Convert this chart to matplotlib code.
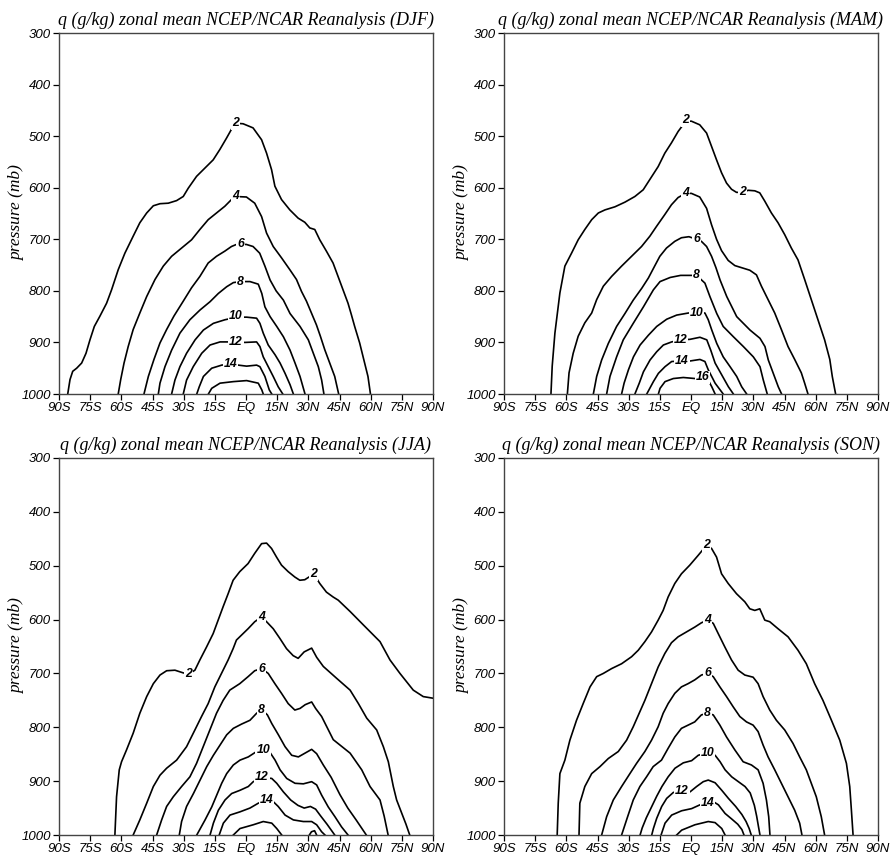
import matplotlib
matplotlib.use('Agg')
import matplotlib.pyplot as plt

# ==============================================================================
# Datos (lat, presion) por nivel de q (g/kg)
# ==============================================================================
LAT_TICKS = [-90, -75, -60, -45, -30, -15, 0, 15, 30, 45, 60, 75, 90]
LAT_LABELS = ['90S', '75S', '60S', '45S', '30S', '15S', 'EQ',
              '15N', '30N', '45N', '60N', '75N', '90N']
P_TICKS = [300, 400, 500, 600, 700, 800, 900, 1000]
SEASONS = ['DJF', 'MAM', 'JJA', 'SON']

DJF = {
    2: [(-85.8, 1000), (-84.7, 972), (-83.4, 956), (-81.5, 950), (-79.1, 940), (-77.0, 921),
        (-75.1, 895), (-73.0, 869), (-70.3, 849), (-67.1, 824), (-64.7, 798), (-61.5, 759),
        (-58.3, 727), (-54.3, 694), (-51.1, 668), (-47.8, 649), (-44.6, 635), (-41.4, 631),
        (-37.4, 630), (-33.4, 625), (-30.2, 617), (-27.8, 601), (-23.8, 578), (-19.8, 562),
        (-15.8, 546), (-12.6, 526), (-9.4, 504), (-6.2, 481), (-4.9, 475), (-1.4, 476),
        (3.4, 484), (7.5, 507), (9.9, 533), (12.3, 565), (13.9, 597), (17.1, 623),
        (21.1, 643), (25.1, 659), (28.3, 667), (30.7, 678), (33.1, 681), (35.5, 701),
        (38.7, 723), (41.9, 746), (44.3, 772), (46.7, 798), (49.1, 824), (50.7, 846),
        (52.3, 869), (54.7, 901), (57.1, 940), (58.7, 966), (59.9, 1000)],
    4: [(-61.5, 1000), (-60.3, 972), (-58.7, 940), (-56.7, 908), (-54.3, 875), (-51.1, 843),
        (-47.8, 811), (-43.8, 778), (-39.8, 752), (-35.8, 733), (-31.0, 717), (-26.2, 701),
        (-22.2, 681), (-18.2, 662), (-14.2, 649), (-10.2, 636), (-7.0, 623), (-5.2, 617),
        (0.2, 618), (4.2, 630), (7.5, 656), (9.9, 688), (13.1, 714), (17.1, 736),
        (21.1, 759), (24.3, 778), (26.7, 801), (29.1, 820), (31.5, 843), (33.9, 866),
        (35.8, 888), (37.9, 914), (40.3, 940), (42.7, 966), (44.6, 1000)],
    6: [(-49.1, 1000), (-47.0, 966), (-44.3, 933), (-41.4, 901), (-38.2, 875), (-34.7, 849),
        (-30.2, 820), (-26.2, 794), (-22.2, 772), (-18.2, 746), (-14.2, 733), (-10.2, 723),
        (-7.0, 714), (-4.6, 710), (0.2, 710), (3.4, 714), (6.6, 727), (9.1, 752),
        (11.6, 779), (14.5, 800), (18.0, 818), (21.2, 844), (26.0, 869), (30.0, 895),
        (32.4, 921), (34.8, 947), (36.4, 973), (37.5, 1000)],
    8: [(-42.2, 1000), (-41.4, 979), (-39.0, 947), (-35.8, 915), (-31.8, 882), (-27.0, 856),
        (-22.1, 837), (-17.3, 821), (-13.3, 805), (-9.3, 792), (-6.1, 784), (-2.6, 782),
        (1.9, 782), (5.9, 787), (7.6, 805), (9.1, 831), (11.6, 850), (14.8, 869),
        (18.0, 889), (21.2, 915), (23.6, 940), (26.0, 966), (28.4, 1000)],
    10: [(-35.8, 1000), (-34.2, 973), (-31.8, 947), (-28.6, 921), (-24.5, 895), (-20.5, 876),
         (-15.7, 863), (-10.1, 856), (-4.2, 851), (0.3, 851), (5.1, 853), (6.7, 863),
         (8.3, 882), (10.7, 905), (14.0, 924), (16.4, 940), (18.8, 960), (21.2, 982),
         (22.8, 1000)],
    12: [(-30.2, 1000), (-28.6, 973), (-25.4, 947), (-21.3, 921), (-17.3, 905), (-12.5, 899),
         (-4.8, 899), (-0.5, 900), (5.1, 899), (6.7, 908), (8.3, 928), (10.7, 947),
         (13.1, 966), (15.5, 986), (17.7, 1000)],
    14: [(-23.7, 1000), (-22.5, 986), (-20.5, 966), (-16.5, 950), (-11.7, 944), (-7.7, 942),
         (-3.7, 944), (0.3, 946), (5.1, 944), (6.7, 947), (9.1, 966), (11.2, 992),
         (12.4, 1000)],
    16: [(-18.1, 1000), (-16.5, 989), (-12.5, 979), (-6.1, 976), (0.3, 974), (5.9, 979),
         (7.6, 992), (8.3, 1000)],
}
DJF_LABELS = {2: [(-4.9, 475)], 4: [(-5.2, 617)], 6: [(-2.6, 710)], 8: [(-2.6, 782)],
              10: [(-4.9, 849)], 12: [(-4.9, 899)], 14: [(-7.5, 941)]}

MAM = {
    2: [(-67.4, 1000), (-66.8, 946), (-65.5, 882), (-63.1, 804), (-60.7, 752), (-57.5, 727),
        (-54.3, 701), (-51.1, 681), (-47.8, 662), (-44.6, 649), (-41.4, 643), (-36.6, 637),
        (-31.8, 628), (-27.0, 617), (-23.0, 604), (-19.8, 584), (-15.8, 559), (-12.6, 533),
        (-9.4, 513), (-6.2, 491), (-3.8, 478), (-2.6, 471), (0.2, 471), (4.2, 478),
        (7.5, 494), (9.9, 520), (12.3, 546), (14.7, 571), (17.1, 591), (19.5, 603),
        (21.9, 609), (24.8, 609), (27.5, 605), (30.7, 606), (33.1, 610), (35.5, 626),
        (38.7, 649), (41.9, 668), (45.1, 691), (48.3, 717), (51.5, 740), (54.7, 778),
        (57.9, 817), (61.1, 856), (64.3, 895), (66.8, 933), (68.0, 966), (69.6, 1000)],
    4: [(-59.5, 1000), (-58.7, 959), (-56.7, 921), (-54.3, 888), (-51.1, 862), (-47.8, 843),
        (-45.4, 817), (-42.2, 791), (-38.2, 772), (-33.4, 752), (-28.6, 733), (-23.8, 714),
        (-19.8, 694), (-16.6, 675), (-12.6, 652), (-9.4, 633), (-6.2, 619), (-2.6, 611),
        (0.2, 611), (4.2, 618), (7.5, 640), (9.9, 672), (12.3, 700), (14.7, 722),
        (17.9, 741), (21.1, 751), (25.1, 756), (28.3, 760), (31.5, 769), (33.9, 791),
        (37.1, 817), (40.3, 843), (43.5, 875), (46.7, 908), (49.9, 933), (53.1, 959),
        (54.7, 979), (56.3, 1000)],
    6: [(-47.0, 1000), (-45.4, 966), (-43.0, 934), (-39.8, 902), (-35.8, 869), (-31.8, 844),
        (-27.8, 818), (-23.7, 795), (-20.5, 775), (-17.5, 752), (-15.0, 733), (-11.8, 717),
        (-7.8, 704), (-4.6, 697), (-1.0, 695), (2.6, 700), (5.0, 704), (7.5, 714),
        (9.9, 733), (12.0, 755), (14.0, 779), (17.2, 811), (22.0, 850), (28.4, 876),
        (33.2, 892), (35.6, 908), (37.2, 934), (39.6, 960), (42.0, 986), (43.6, 1000)],
    8: [(-40.6, 1000), (-39.0, 966), (-35.8, 928), (-32.6, 895), (-27.8, 863), (-22.9, 831),
        (-18.1, 798), (-14.9, 782), (-10.0, 774), (-5.0, 770), (2.7, 770), (6.7, 785),
        (9.1, 811), (12.4, 844), (15.5, 869), (20.4, 889), (25.2, 908), (30.0, 928),
        (33.2, 947), (34.8, 973), (36.7, 1000)],
    10: [(-33.4, 1000), (-32.2, 979), (-30.1, 953), (-27.7, 928), (-24.5, 905), (-20.5, 886),
         (-16.5, 869), (-11.7, 855), (-6.9, 847), (-1.3, 843), (2.7, 842), (6.7, 843),
         (8.3, 856), (10.0, 876), (12.4, 902), (15.5, 928), (18.8, 947), (22.0, 966),
         (24.4, 986), (26.8, 1000)],
    12: [(-27.0, 1000), (-24.9, 979), (-22.9, 957), (-19.7, 934), (-16.5, 918), (-13.3, 905),
         (-9.3, 899), (-5.0, 895), (-0.5, 894), (4.3, 890), (7.6, 895), (9.5, 915),
         (11.6, 940), (14.8, 963), (18.0, 986), (20.4, 1000)],
    14: [(-21.3, 1000), (-18.1, 976), (-15.7, 960), (-12.5, 947), (-9.3, 937), (-4.5, 936),
         (-0.5, 936), (4.3, 933), (6.7, 937), (8.3, 953), (11.6, 979), (15.5, 1000)],
    16: [(-15.7, 1000), (-14.9, 989), (-12.5, 976), (-8.5, 970), (-3.7, 968), (1.9, 970),
         (5.6, 968), (8.3, 973), (10.0, 986), (11.6, 1000)],
}
MAM_LABELS = {2: [(-2.6, 469), (24.8, 609)], 4: [(-2.6, 611)], 6: [(2.6, 700)],
              8: [(2.7, 770)], 10: [(2.7, 842)], 12: [(-5.0, 895)], 14: [(-4.5, 936)],
              16: [(5.6, 968)]}

JJA = {
    2: [(-63.1, 1000), (-62.3, 929), (-61.0, 879), (-59.9, 864), (-57.5, 842), (-54.3, 811),
        (-51.1, 774), (-47.8, 743), (-44.6, 719), (-41.4, 703), (-38.2, 695), (-34.2, 694),
        (-30.2, 699), (-27.5, 701), (-24.6, 694), (-22.2, 675), (-19.0, 651), (-15.8, 626),
        (-13.4, 601), (-11.0, 576), (-8.6, 552), (-6.2, 527), (-3.0, 511), (1.0, 496),
        (4.2, 477), (7.5, 459), (9.9, 458), (12.3, 468), (14.7, 484), (17.1, 499),
        (20.3, 511), (23.5, 521), (25.9, 527), (28.3, 526), (30.7, 520), (32.6, 515),
        (35.5, 533), (38.7, 549), (41.9, 558), (44.4, 564), (50.1, 585), (56.5, 610),
        (64.5, 641), (69.3, 675), (74.1, 700), (80.5, 731), (85.3, 743), (90.0, 746)],
    4: [(-54.3, 1000), (-51.1, 972), (-47.8, 941), (-44.6, 910), (-41.4, 889), (-38.2, 876),
        (-33.4, 861), (-28.6, 836), (-24.6, 805), (-21.4, 780), (-18.2, 756), (-15.0, 725),
        (-11.8, 700), (-8.6, 675), (-6.2, 654), (-4.6, 638), (-2.2, 629), (1.0, 617),
        (4.2, 604), (7.5, 595), (9.9, 604), (13.1, 617), (16.3, 635), (19.5, 654),
        (22.7, 667), (25.1, 672), (28.0, 660), (31.6, 653), (34.0, 670), (37.2, 687),
        (43.6, 709), (50.1, 731), (54.1, 756), (58.1, 783), (62.9, 805), (66.1, 836),
        (68.5, 864), (70.9, 910), (72.5, 935), (75.0, 960), (77.0, 980), (78.8, 1000)],
    6: [(-43.0, 1000), (-40.6, 972), (-38.2, 947), (-35.0, 929), (-31.0, 910), (-27.0, 892),
        (-23.8, 867), (-20.6, 836), (-17.4, 805), (-14.2, 774), (-11.0, 750), (-7.8, 731),
        (-5.4, 725), (-3.0, 719), (1.0, 706), (4.2, 695), (7.5, 691), (10.7, 700),
        (13.9, 719), (17.1, 737), (20.3, 756), (23.5, 768), (26.0, 765), (28.5, 758),
        (31.6, 753), (33.5, 765), (36.4, 780), (42.0, 823), (50.1, 848), (55.7, 879),
        (59.7, 910), (64.5, 935), (66.5, 965), (68.4, 1000)],
    8: [(-32.1, 1000), (-31.0, 975), (-28.6, 947), (-25.3, 923), (-22.1, 898), (-18.9, 873),
        (-15.7, 852), (-12.5, 833), (-9.3, 814), (-6.1, 802), (-2.1, 794), (1.9, 787),
        (5.1, 774), (7.5, 767), (10.3, 777), (12.4, 793), (15.6, 814), (18.8, 836),
        (22.0, 852), (25.2, 855), (28.4, 848), (31.6, 841), (34.0, 849), (37.2, 870),
        (41.0, 893), (45.2, 925), (49.0, 950), (53.0, 972), (57.9, 1000)],
    10: [(-23.7, 1000), (-19.7, 972), (-16.5, 948), (-14.1, 926), (-11.7, 904), (-9.3, 886),
         (-6.1, 870), (-2.9, 861), (1.1, 855), (5.1, 845), (8.3, 842), (11.6, 847),
         (14.0, 861), (16.4, 879), (19.6, 895), (23.6, 904), (27.6, 905), (31.6, 901),
         (34.0, 907), (36.4, 926), (39.6, 948), (42.8, 966), (46.0, 985), (49.1, 1000)],
    12: [(-17.3, 1000), (-15.7, 978), (-13.3, 954), (-10.1, 935), (-6.9, 923), (-2.9, 917),
         (1.1, 910), (3.5, 901), (7.6, 893), (12.4, 895), (14.8, 904), (18.0, 920),
         (21.5, 935), (25.0, 945), (28.0, 950), (31.0, 947), (33.5, 952), (36.0, 965),
         (39.0, 980), (42.7, 1000)],
    14: [(-12.9, 1000), (-10.9, 978), (-7.7, 963), (-2.9, 957), (1.9, 950), (5.9, 941),
         (9.9, 935), (13.1, 938), (15.5, 947), (18.8, 963), (22.8, 972), (27.6, 975),
         (31.6, 975), (34.0, 981), (36.4, 994), (38.0, 1000)],
    16: [[(-6.1, 1000), (-2.9, 988), (3.5, 981), (8.3, 975), (12.4, 978), (14.8, 988),
          (17.2, 1000)],
         [(30.5, 1000), (31.5, 994), (33.0, 992), (34.0, 1000)]],
}
JJA_LABELS = {2: [(-27.5, 701), (32.6, 515)], 4: [(7.5, 595)], 6: [(7.5, 691)],
              8: [(7.5, 767)], 10: [(8.3, 842)], 12: [(7.6, 893)], 14: [(9.9, 935)]}

SON = {
    2: [(-64.4, 1000), (-63.9, 941), (-63.1, 886), (-60.7, 861), (-58.3, 824), (-55.1, 787),
        (-51.9, 756), (-48.6, 725), (-45.4, 706), (-42.2, 700), (-38.2, 691), (-33.4, 682),
        (-28.6, 669), (-25.4, 657), (-22.2, 641), (-19.0, 623), (-15.8, 601), (-13.4, 583),
        (-11.0, 558), (-7.8, 533), (-4.6, 515), (-0.6, 499), (3.4, 481), (7.5, 462),
        (9.9, 468), (12.3, 484), (14.7, 515), (17.9, 533), (21.9, 552), (25.9, 567),
        (28.3, 580), (30.7, 583), (33.1, 580), (35.5, 601), (37.9, 604), (41.9, 617),
        (46.7, 632), (51.5, 657), (55.5, 682), (59.5, 719), (63.5, 750), (67.6, 787),
        (71.6, 824), (74.8, 867), (76.4, 910), (77.2, 954), (78.0, 1000)],
    4: [(-53.9, 1000), (-53.5, 941), (-51.1, 910), (-47.8, 886), (-43.8, 873), (-39.8, 858),
        (-35.0, 845), (-31.0, 824), (-27.8, 799), (-24.6, 771), (-22.2, 750), (-19.0, 719),
        (-15.8, 688), (-12.6, 663), (-9.4, 643), (-6.2, 632), (-2.2, 623), (1.8, 614),
        (5.0, 606), (7.9, 601), (10.7, 607), (13.1, 626), (16.3, 651), (19.5, 675),
        (22.7, 694), (25.9, 703), (29.9, 707), (32.3, 719), (34.7, 743), (37.9, 768),
        (41.1, 787), (45.1, 805), (49.1, 830), (52.3, 855), (55.5, 879), (57.9, 904),
        (60.3, 929), (62.7, 966), (64.3, 1000)],
    6: [(-43.0, 1000), (-40.6, 966), (-37.4, 935), (-33.4, 910), (-29.4, 886), (-26.2, 867),
        (-22.2, 845), (-19.0, 824), (-15.8, 799), (-13.4, 774), (-11.0, 756), (-7.8, 737),
        (-4.6, 725), (-1.4, 719), (1.8, 712), (5.0, 703), (7.9, 700), (10.7, 706),
        (13.9, 725), (17.1, 743), (20.3, 762), (23.5, 780), (26.7, 790), (29.9, 796),
        (32.3, 808), (34.7, 833), (37.1, 855), (40.3, 879), (43.5, 904), (46.7, 929),
        (49.9, 954), (52.3, 978), (53.4, 1000)],
    8: [(-33.4, 1000), (-30.5, 966), (-27.8, 935), (-24.6, 910), (-21.4, 892), (-18.2, 873),
        (-14.2, 861), (-11.0, 839), (-7.8, 818), (-4.6, 802), (-1.4, 796), (1.8, 790),
        (5.0, 777), (7.9, 774), (10.7, 777), (13.9, 796), (17.1, 818), (21.1, 842),
        (25.1, 864), (29.1, 870), (32.3, 879), (34.7, 904), (36.3, 935), (37.4, 966),
        (38.0, 1000)],
    10: [(-24.5, 1000), (-23.5, 987), (-21.5, 968), (-19.0, 948), (-16.5, 928), (-14.0, 910),
         (-11.0, 892), (-7.7, 876), (-3.7, 866), (0.3, 862), (3.5, 852), (8.0, 847),
         (11.6, 852), (14.0, 864), (16.4, 879), (19.6, 892), (22.8, 901), (26.0, 910),
         (28.5, 922), (30.5, 945), (31.6, 965), (32.5, 985), (33.2, 1000)],
    12: [(-18.9, 1000), (-18.1, 988), (-16.5, 969), (-14.1, 947), (-11.7, 932), (-8.5, 921),
         (-4.5, 918), (-0.5, 920), (2.7, 910), (5.9, 901), (8.3, 898), (11.6, 903),
         (14.8, 917), (18.0, 932), (21.5, 947), (24.5, 962), (26.5, 975), (28.0, 988),
         (29.0, 1000)],
    14: [(-14.4, 1000), (-12.5, 978), (-9.3, 963), (-4.5, 955), (0.3, 951), (4.3, 944),
         (8.0, 940), (10.7, 938), (13.2, 944), (16.4, 960), (19.5, 970), (22.5, 980),
         (24.5, 990), (25.5, 1000)],
    16: [(-6.9, 1000), (-4.5, 991), (1.9, 981), (8.3, 975), (11.6, 977), (14.8, 988),
         (16.4, 1000)],
}
SON_LABELS = {2: [(7.5, 462)], 4: [(7.9, 601)], 6: [(7.9, 700)], 8: [(7.9, 774)],
              10: [(8.0, 847)], 12: [(-4.5, 918)], 14: [(8.0, 940)]}

# ==============================================================================
# Figura
# ==============================================================================
W, H = 891, 856
# (x0, y0 superior, ancho, alto) en pixeles
BOXES = [(59, 33, 374, 361), (504, 33, 374, 361),
         (59, 458, 374, 377), (504, 458, 374, 377)]

TICK_FONT = dict(family='Liberation Sans', style='italic', size=9.5)
SERIF_IT = dict(family='Liberation Serif', style='italic')


def draw_panel(ax, lines, labels, season):
    for lev, pts in lines.items():
        segs = pts if isinstance(pts[0], list) else [pts]
        for seg in segs:
            ax.plot([p[0] for p in seg], [p[1] for p in seg], color='black', lw=1.2,
                    solid_joinstyle='round', zorder=2)
    for lev, locs in labels.items():
        for lat, p in locs:
            ax.text(lat, p, str(lev), ha='center', va='center', fontsize=8.8,
                    family='Liberation Sans', style='italic', fontweight='bold', zorder=3,
                    bbox=dict(boxstyle='square,pad=0.08', fc='white', ec='none'))

    ax.set_xlim(-90, 90)
    ax.set_ylim(1000, 300)
    ax.set_xticks(LAT_TICKS)
    ax.set_xticklabels(LAT_LABELS, fontdict=TICK_FONT)
    ax.set_yticks(P_TICKS)
    ax.set_yticklabels([str(v) for v in P_TICKS], fontdict=TICK_FONT)
    ax.tick_params(direction='out', length=4, width=0.9, pad=2, colors='black')
    for sp in ax.spines.values():
        sp.set_color('#444444')
        sp.set_linewidth(1.0)
    ax.set_title('q (g/kg) zonal mean NCEP/NCAR Reanalysis (%s)' % season,
                 fontsize=13.0, pad=6, **SERIF_IT)
    ax.set_ylabel('pressure (mb)', fontsize=12.5, labelpad=-3, **SERIF_IT)


fig = plt.figure(figsize=(W / 100, H / 100), dpi=100)
data = [(DJF, DJF_LABELS), (MAM, MAM_LABELS), (JJA, JJA_LABELS), (SON, SON_LABELS)]
for (x0, y0, w, h), (lines, labels), season in zip(BOXES, data, SEASONS):
    ax = fig.add_axes([x0 / W, 1 - (y0 + h) / H, w / W, h / H])
    draw_panel(ax, lines, labels, season)

fig.savefig('out.png', dpi=100)
